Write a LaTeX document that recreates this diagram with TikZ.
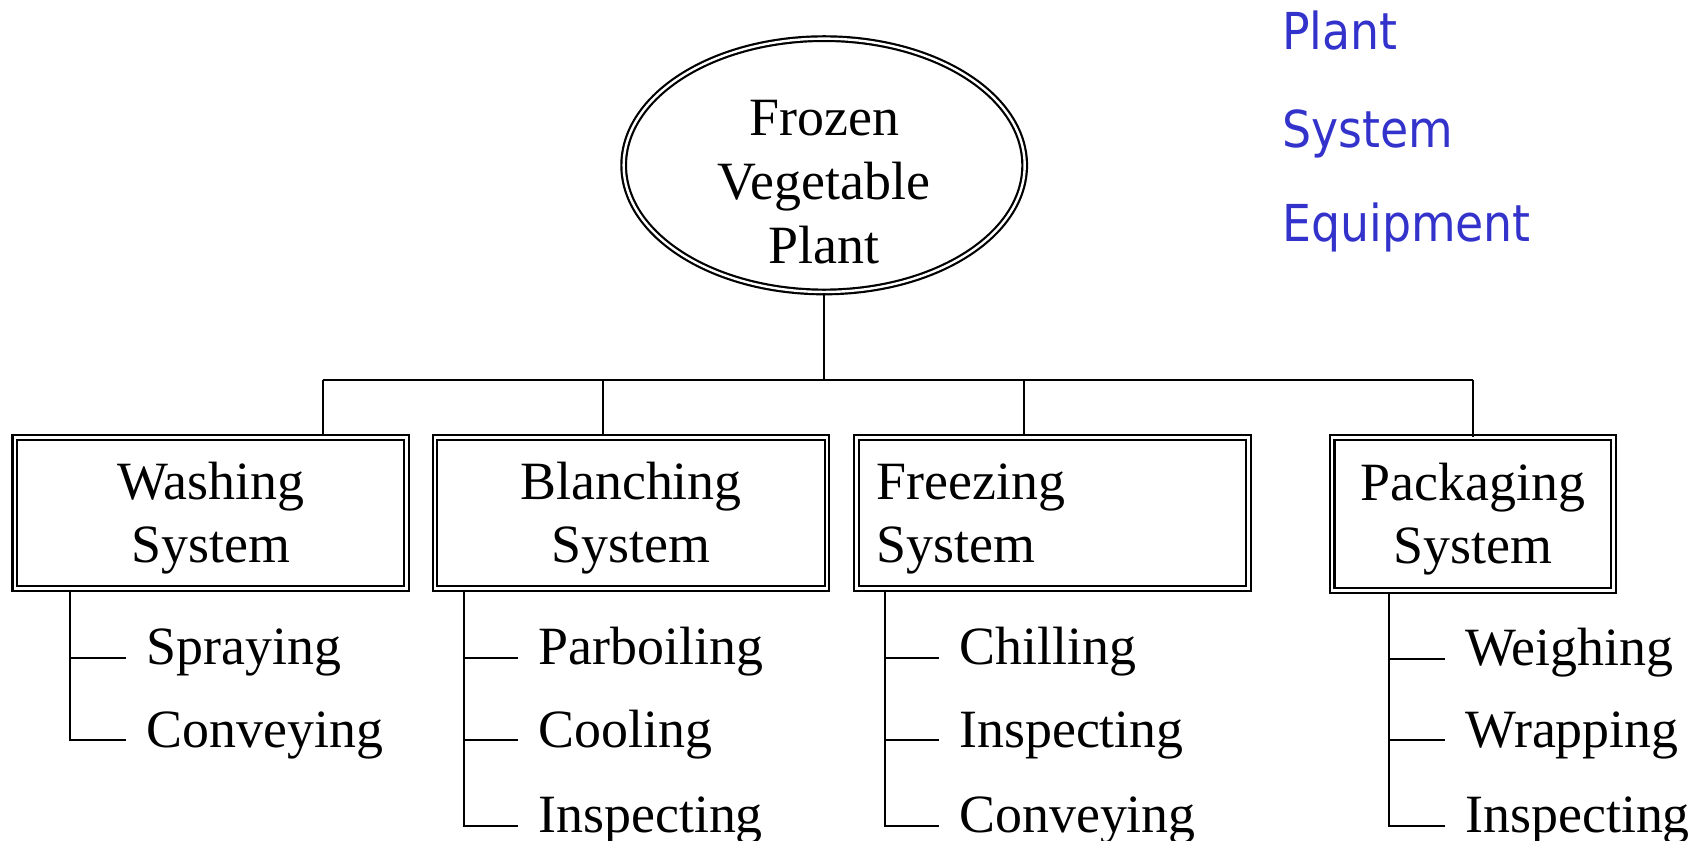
\documentclass[tikz,border=0pt]{standalone}
\usepackage{fontspec}
\setmainfont{Liberation Serif}
\newfontfamily\legendfont{DejaVu Sans Condensed}
\usepackage{tikz}
\usetikzlibrary{shapes.geometric}
\definecolor{legendblue}{HTML}{3333CC}

\begin{document}
\begin{tikzpicture}
    % Styles
    \tikzstyle{root} = [ellipse, draw=black, double, double distance=1.2pt, line width=1.1pt, minimum width=7.06cm, minimum height=4.46cm, inner xsep=0pt, inner ysep=-10pt, align=center, text height=98pt, text depth=0pt, font=\fontsize{27}{32}\selectfont]
    \tikzstyle{sysbox} = [rectangle, draw=black, double, double distance=1.2pt, line width=1.1pt, minimum width=6.90cm, minimum height=2.66cm, align=center, text height=49.5pt, text depth=0pt, font=\fontsize{27}{31.5}\selectfont]
    \tikzstyle{item} = [anchor=west, inner xsep=10pt, inner ysep=0pt, text height=7pt, text depth=0pt, font=\fontsize{27}{31.5}\selectfont]
    \tikzstyle{link} = [line width=0.8pt]
    \tikzstyle{legend} = [anchor=base west, inner sep=0pt, text=legendblue, font=\legendfont\fontsize{25.5}{30}\selectfont]

    \useasboundingbox (0,0) rectangle (30,-14.806);

    % Top of the tree
    \node[root] (plant) at (14.51,-2.91) {Frozen\\Vegetable\\Plant};

    % Systems
    \node[sysbox] (wash) at (3.71,-9.03) {Washing\\System};
    \node[sysbox] (blanch) at (11.11,-9.03) {Blanching\\System};
    \node[sysbox, text width=6.2cm, inner xsep=0.34cm, align=left, text height=18pt, text depth=31.5pt] (freeze) at (18.53,-9.03) {Freezing\\System};
    \node[sysbox, minimum width=4.95cm, minimum height=2.69cm] (pack) at (25.93,-9.05) {Packaging\\System};

    % Bus between plant and systems
    \coordinate (bw) at (5.69,-6.69);
    \coordinate (bb) at (10.62,-6.69);
    \coordinate (bf) at (18.03,-6.69);
    \coordinate (bp) at (25.93,-6.69);
    \draw[link] (plant.south) -- (plant.south |- bw);
    \draw[link] (bw) -- (bp);
    \draw[link] (bw) -- (bw |- wash.north);
    \draw[link] (bb) -- (bb |- blanch.north);
    \draw[link] (bf) -- (bf |- freeze.north);
    \draw[link] (bp) -- (bp |- pack.north);

    % Equipment - washing
    \coordinate (wspine) at (1.23,-10);
    \node[item] (spray) at (2.22,-11.58) {Spraying};
    \node[item] (wconvey) at (2.22,-13.03) {Conveying};
    \draw[link] (wspine |- wash.south) |- (wconvey.west);
    \draw[link] (wspine |- spray.west) -- (spray.west);

    % Equipment - blanching
    \coordinate (bspine) at (8.17,-10);
    \node[item] (parboil) at (9.12,-11.58) {Parboiling};
    \node[item] (cool) at (9.12,-13.03) {Cooling};
    \node[item] (binspect) at (9.12,-14.54) {Inspecting};
    \draw[link] (bspine |- blanch.south) |- (binspect.west);
    \draw[link] (bspine |- parboil.west) -- (parboil.west);
    \draw[link] (bspine |- cool.west) -- (cool.west);

    % Equipment - freezing
    \coordinate (fspine) at (15.58,-10);
    \node[item] (chill) at (16.53,-11.58) {Chilling};
    \node[item] (finspect) at (16.53,-13.03) {Inspecting};
    \node[item] (fconvey) at (16.53,-14.54) {Conveying};
    \draw[link] (fspine |- freeze.south) |- (fconvey.west);
    \draw[link] (fspine |- chill.west) -- (chill.west);
    \draw[link] (fspine |- finspect.west) -- (finspect.west);

    % Equipment - packaging
    \coordinate (pspine) at (24.45,-10);
    \node[item] (weigh) at (25.44,-11.60) {Weighing};
    \node[item] (wrap) at (25.44,-13.03) {Wrapping};
    \node[item] (pinspect) at (25.44,-14.54) {Inspecting};
    \draw[link] (pspine |- pack.south) |- (pinspect.west);
    \draw[link] (pspine |- weigh.west) -- (weigh.west);
    \draw[link] (pspine |- wrap.west) -- (wrap.west);

    % Legend
    \node[legend] (lplant) at (22.57,-0.88) {Plant};
    \node[legend] (lsystem) at (22.57,-2.59) {System};
    \node[legend] (lequip) at (22.57,-4.26) {Equipment};
\end{tikzpicture}
\end{document}
